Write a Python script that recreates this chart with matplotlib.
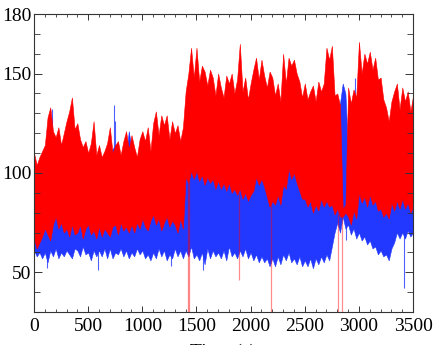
import numpy as np
import matplotlib
matplotlib.use("Agg")
import matplotlib.pyplot as plt
from matplotlib.ticker import MultipleLocator

# samples every 25 s (envelope of the dense traces)
time = np.arange(0, 3501, 25)

red_hi = [110, 104, 108, 111,  114, 128, 133, 121,  118, 123, 114, 120,
          126, 131, 138, 122,  125, 117, 113, 116,  110, 115, 126, 109,
          114, 108, 111, 115,  123, 110, 114, 116,  109, 116, 121, 112,
          119, 113, 108, 117,  121, 116, 123, 111,  125, 131, 119, 129,
          124, 129, 117, 126,  120, 124, 116, 123,  141, 150, 163, 148,
          163, 146, 154, 151,  144, 152, 148, 139,  150, 143, 138, 149,
          145, 150, 140, 147,  165, 141, 148, 137,  145, 152, 158, 147,
          157, 149, 143, 151,  148, 139, 145, 136,  160, 145, 158, 154,
          157, 150, 146, 138,  145, 137, 141, 144,  136, 146, 141, 145,
          163, 157, 164, 139,  140, 134, 82, 84,    143, 135, 142, 138,
          166, 150, 160, 155,  161, 152, 158, 147,  148, 137, 133, 126,
          136, 141, 145, 132,  143, 136, 141, 131,  139]
red_lo = [67, 62, 65, 68,  72, 69, 66, 74,  78, 72, 75, 70,  72, 68, 74, 69,
          70, 74, 67, 72,  74, 69, 71, 67,  73, 68, 72, 70,  68, 73, 74, 69,
          75, 71, 73, 70,  74, 70, 75, 72,  77, 73, 71, 76,  79, 74, 77, 71,
          75, 78, 73, 76,  74, 70, 77, 72,  98, 95, 101, 97,  101, 96, 99, 94,
          98, 95, 97, 92,  96, 92, 95, 91,  95, 90, 92, 89,  92, 87, 90, 86,
          89, 91, 98, 94,  97, 93, 88, 83,  86, 84, 89, 84,  94, 92, 102, 97,
          100, 95, 91, 87,  87, 83, 86, 80,  84, 81, 87, 83,  86, 83, 84, 79,
          82, 78, 78, 80,  78, 74, 81, 77,  90, 85, 88, 83,  89, 84, 86, 81,
          82, 78, 80, 77,  85, 81, 86, 82,  87, 82, 85, 80,  83]
blue_hi = [100, 102, 104, 101,  112, 115, 114, 110,  112, 110, 115, 108,
           118, 120, 115, 112,  110, 108, 106, 104,  105, 108, 106, 104,
           106, 104, 107, 112,  110, 112, 114, 108,  106, 104, 108, 121,
           112, 108, 106, 110,  108, 112, 110, 106,  110, 114, 108, 112,
           110, 108, 112, 106,  108, 110, 106, 100,  104, 106, 103, 105,
           102, 106, 104, 101,  103, 100, 105, 102,  101, 104, 100, 103,
           102, 99, 104, 100,  104, 101, 98, 100,  99, 103, 105, 102,
           103, 100, 97, 95,  96, 98, 95, 99,  101, 104, 106, 103,
           104, 100, 98, 96,  95, 92, 94, 90,  94, 97, 102, 104,
           103, 98, 96, 100,  120, 135, 145, 140,  110, 100, 104, 98,
           100, 98, 102, 96,  98, 95, 100, 97,  96, 94, 92, 95,
           98, 100, 97, 99,  100, 98, 101, 99,  100]
blue_lo = [61, 58, 60, 57,  60, 55, 61, 58,  62, 57, 60, 58,  61, 59, 57, 62,
           61, 58, 63, 59,  60, 56, 61, 58,  61, 58, 62, 57,  62, 57, 60, 59,
           62, 58, 61, 57,  60, 58, 62, 59,  61, 57, 59, 56,  60, 57, 62, 58,
           61, 56, 59, 57,  62, 58, 61, 57,  61, 58, 63, 57,  59, 56, 60, 54,
           62, 57, 61, 58,  60, 57, 61, 56,  63, 58, 60, 57,  61, 58, 62, 57,
           60, 56, 59, 55,  58, 55, 57, 53,  57, 53, 58, 54,  59, 56, 60, 55,
           57, 54, 58, 53,  56, 53, 57, 52,  57, 54, 58, 55,  59, 56, 63, 70,
           75, 70, 78, 72,  74, 69, 72, 67,  70, 66, 68, 64,  66, 62, 63, 59,
           61, 58, 59, 56,  62, 65, 70, 67,  70, 67, 71, 68,  70]

# single thin excursions
red_dip_t = [1418, 1432, 1891, 2192, 2810, 2846]
red_dip_top = [96, 96, 90, 85, 80, 80]
red_dip_bot = [20, 20, 46, 20, 20, 20]
blue_dip_t = [120, 590, 1268, 1557, 2883, 3417]
blue_dip_top = [60, 60, 60, 60, 75, 70]
blue_dip_bot = [52, 51, 53, 51, 66, 42]
blue_peak_t = [150, 165, 737, 745, 2966]
blue_peak_top = [128, 132, 134, 126, 148]
blue_peak_bot = [100, 100, 100, 100, 100]

plt.rcParams['font.family'] = ['Liberation Serif', 'DejaVu Serif']
plt.rcParams['font.size'] = 14

RED = '#ff0000'
BLUE = '#2338ff'

fig = plt.figure(figsize=(4.36, 3.45), dpi=100)
ax = fig.add_axes([0.078, 0.0957, 0.8695, 0.8637])

ax.fill_between(time, blue_lo, blue_hi, color=BLUE, lw=0.4, zorder=1)
ax.vlines(blue_dip_t, blue_dip_bot, blue_dip_top, color=BLUE, lw=0.8, alpha=0.8, zorder=1.2)
ax.vlines(blue_peak_t, blue_peak_bot, blue_peak_top, color=BLUE, lw=0.8, alpha=0.8, zorder=1.2)
ax.fill_between(time, red_lo, red_hi, color=RED, lw=0.4, zorder=1.5)
ax.vlines(red_dip_t, red_dip_bot, red_dip_top, color=RED, lw=0.9, alpha=0.45, zorder=1.7)

ax.set_xlim(0, 3500)
ax.set_ylim(30, 180)
ax.set_xticks([0, 500, 1000, 1500, 2000, 2500, 3000, 3500])
ax.set_yticks([50, 100, 150, 180])
ax.xaxis.set_minor_locator(MultipleLocator(100))
ax.yaxis.set_minor_locator(MultipleLocator(10))
ax.tick_params(which='both', direction='in', top=True, right=True, color='#333333')
ax.tick_params(axis='x', which='major', length=4.5, width=0.7, pad=4)
ax.tick_params(axis='x', which='minor', length=2.2, width=0.6)
ax.tick_params(axis='y', which='major', length=6, width=0.7, pad=2)
ax.tick_params(axis='y', which='minor', length=4, width=0.6)
for s in ax.spines.values():
    s.set_color('#333333')
    s.set_linewidth(0.8)

# the reference image cuts this label off at the bottom edge
ax.set_xlabel('Time (s)', labelpad=6.5)

fig.savefig('out.png', dpi=100)
